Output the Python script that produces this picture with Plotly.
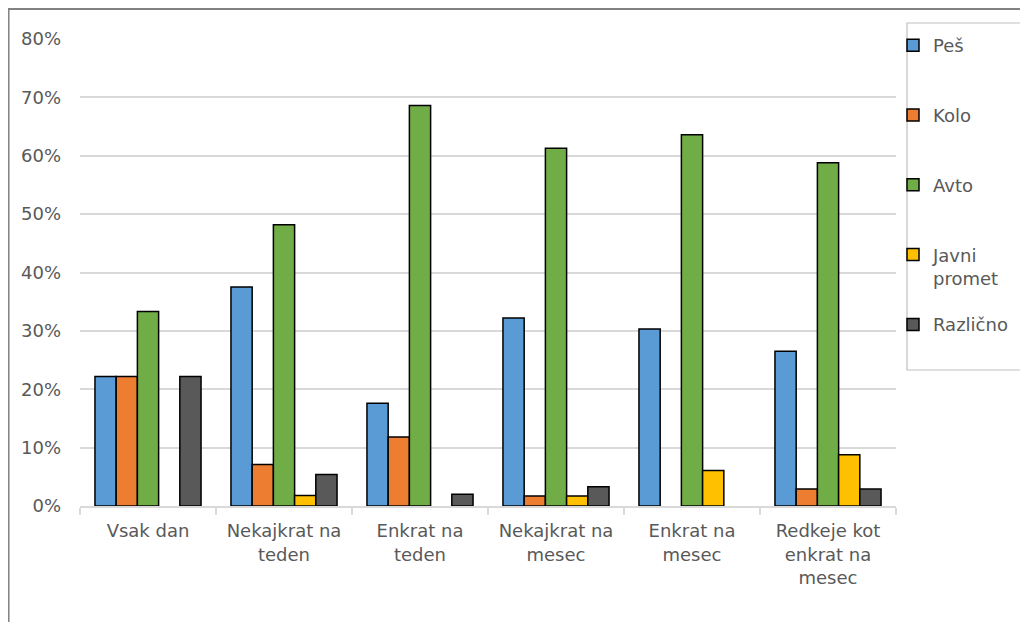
import plotly.graph_objects as go

categories = ["Vsak dan", "Nekajkrat na<br>teden", "Enkrat na<br>teden",
              "Nekajkrat na<br>mesec", "Enkrat na<br>mesec",
              "Redkeje kot<br>enkrat na<br>mesec"]
series_names = ["Peš", "Kolo", "Avto", "Javni<br>promet", "Različno"]
pes = [0.222, 0.375, 0.176, 0.322, 0.303, 0.265]
kolo = [0.222, 0.071, 0.118, 0.017, None, 0.029]
avto = [0.333, 0.482, 0.686, 0.613, 0.636, 0.588]
javni = [None, 0.018, None, 0.017, 0.061, 0.088]
razlicno = [0.222, 0.054, 0.020, 0.033, None, 0.029]
values = [pes, kolo, avto, javni, razlicno]
colors = ["#5B9BD5", "#ED7D31", "#70AD47", "#FFC000", "#595959"]

FONT = "DejaVu Sans"
TXT = "#595959"

fig = go.Figure()
for i, (name, vals, col) in enumerate(zip(series_names, values, colors)):
    legend_name = name if "<br>" in name else name + "<br> "
    fig.add_trace(go.Bar(
        x=categories, y=vals, name=legend_name,
        marker=dict(color=col, line=dict(color="#000000", width=1.5)),
        legendgroup=f"g{i}", hoverinfo="skip",
    ))

# page body has an 8px margin; work in figure pixels
W, H = 1020, 614
L, T = 72, 31
R = W - 888
B = H - 498
pw, ph = W - L - R, H - T - B

def px_x(x):
    return (x - L) / pw

def px_y(y):
    return (H - B - y) / ph

fig.update_layout(
    width=W, height=H,
    margin=dict(l=L, r=R, t=T, b=B, autoexpand=False),
    paper_bgcolor="white", plot_bgcolor="white",
    barmode="group", bargap=0.22, bargroupgap=0.0,
    font=dict(family=FONT, size=18, color=TXT),
    showlegend=True,
    legend=dict(
        x=px_x(885), y=px_y(19), xanchor="left", yanchor="top",
        borderwidth=0, bgcolor="rgba(0,0,0,0)",
        traceorder="grouped", tracegroupgap=20, valign="top",
        font=dict(family=FONT, size=18, color=TXT),
        itemwidth=30, maxheight=600,
    ),
    xaxis=dict(
        type="category", categoryorder="array", categoryarray=categories,
        showline=True, linecolor="#D9D9D9", linewidth=1.5,
        ticks="outside", tickson="boundaries", ticklen=7, tickcolor="#D9D9D9",
        tickwidth=1.5, ticklabelstandoff=8,
        showgrid=False, tickfont=dict(family=FONT, size=18, color=TXT),
    ),
    yaxis=dict(
        range=[0, 0.8], dtick=0.1, tickformat=".0%",
        showgrid=True, gridcolor="#D9D9D9", gridwidth=1.5,
        zeroline=False, showline=False, ticks="",
        ticklabelstandoff=18,
        tickfont=dict(family=FONT, size=18, color=TXT),
    ),
    shapes=[
        dict(type="line", xref="paper", yref="paper",
             x0=px_x(0), x1=px_x(W + 2), y0=px_y(1), y1=px_y(1),
             line=dict(color="#595959", width=1.5)),
        dict(type="line", xref="paper", yref="paper",
             x0=px_x(0.8), x1=px_x(0.8), y0=px_y(1), y1=px_y(H + 2),
             line=dict(color="#7F7F7F", width=1.5)),
        dict(type="rect", xref="paper", yref="paper", layer="below",
             x0=px_x(899), x1=px_x(1016), y0=px_y(15), y1=px_y(362),
             line=dict(color="#BFBFBF", width=1.2), fillcolor="white"),
    ],
)

fig.write_html("out.html")
